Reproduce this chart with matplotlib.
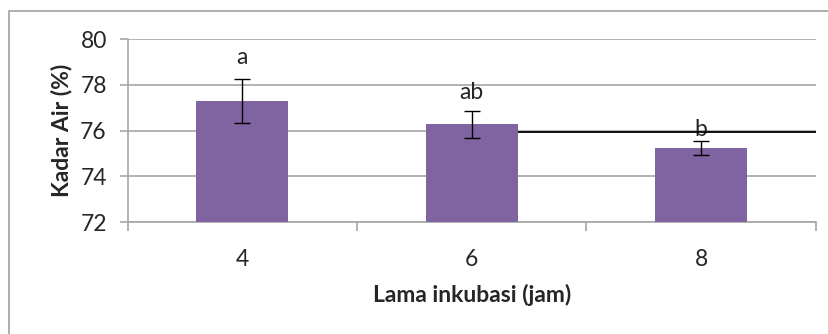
import numpy as np
import matplotlib.pyplot as plt
from matplotlib.patches import Rectangle
from matplotlib.ticker import FixedLocator, NullFormatter

plt.rcParams['font.family'] = ['Lato', 'DejaVu Sans']

# moisture content per incubation time
hours = ['4', '6', '8']
kadar_air = [77.30, 76.28, 75.24]
sd = [0.95, 0.59, 0.29]
notasi = ['a', 'ab', 'b']
notasi_y = [79.2, 77.65, 76.05]
garis_ref = 75.93

bar_color = '#8064a2'
grid_color = '#a6a6a6'
text_color = '#262626'
fs = 16.5

fig = plt.figure(figsize=(8.29, 3.34), dpi=100)
ax = fig.add_axes([0.154, 0.3344, 0.830, 0.5488])

# chart frame
fig.patches.append(Rectangle((9 / 829, -0.1), 1.2, (334 - 11) / 334 + 0.1,
                             transform=fig.transFigure, fill=False,
                             edgecolor='#a0a0a0', linewidth=1.2))

x = np.arange(len(hours))
ax.bar(x, kadar_air, width=0.40, color=bar_color, zorder=3)
ax.errorbar(x, kadar_air, yerr=sd, fmt='none', ecolor='black',
            elinewidth=1, capsize=5.5, capthick=1, zorder=4)

for xi, lab, ly in zip(x, notasi, notasi_y):
    ax.text(xi, ly, lab, ha='center', va='center', fontsize=fs,
            color=text_color, zorder=5)

# reference line drawn from the right edge of the second bar
ax.hlines(garis_ref, x[1] + 0.20, 2.5, color='black', linewidth=1.3, zorder=5)

ax.set_xlim(-0.5, 2.5)
ax.set_ylim(72, 80)
ax.set_yticks([72, 74, 76, 78, 80])
ax.yaxis.grid(True, color=grid_color, linewidth=1.2, zorder=0)

ax.xaxis.set_major_locator(FixedLocator([-0.5, 0.5, 1.5, 2.5]))
ax.xaxis.set_major_formatter(NullFormatter())
ax.xaxis.set_minor_locator(FixedLocator(x))
ax.set_xticklabels(hours, minor=True)
ax.tick_params(axis='x', which='major', length=6.5, width=1.2,
               color=grid_color, direction='out')
ax.tick_params(axis='x', which='minor', length=0, pad=19,
               labelsize=fs, labelcolor=text_color)
ax.tick_params(axis='y', length=6, width=1.2, color=grid_color,
               labelsize=fs, labelcolor=text_color, pad=9)

for s in ['top', 'right']:
    ax.spines[s].set_visible(False)
for s in ['left', 'bottom']:
    ax.spines[s].set_color(grid_color)
    ax.spines[s].set_linewidth(1.2)

ax.set_xlabel('Lama inkubasi (jam)', fontsize=fs, fontweight='bold',
              color=text_color, labelpad=10)
ax.set_ylabel('Kadar Air (%)', fontsize=fs, fontweight='bold',
              color=text_color, labelpad=6)

fig.savefig('out.png', dpi=100)
